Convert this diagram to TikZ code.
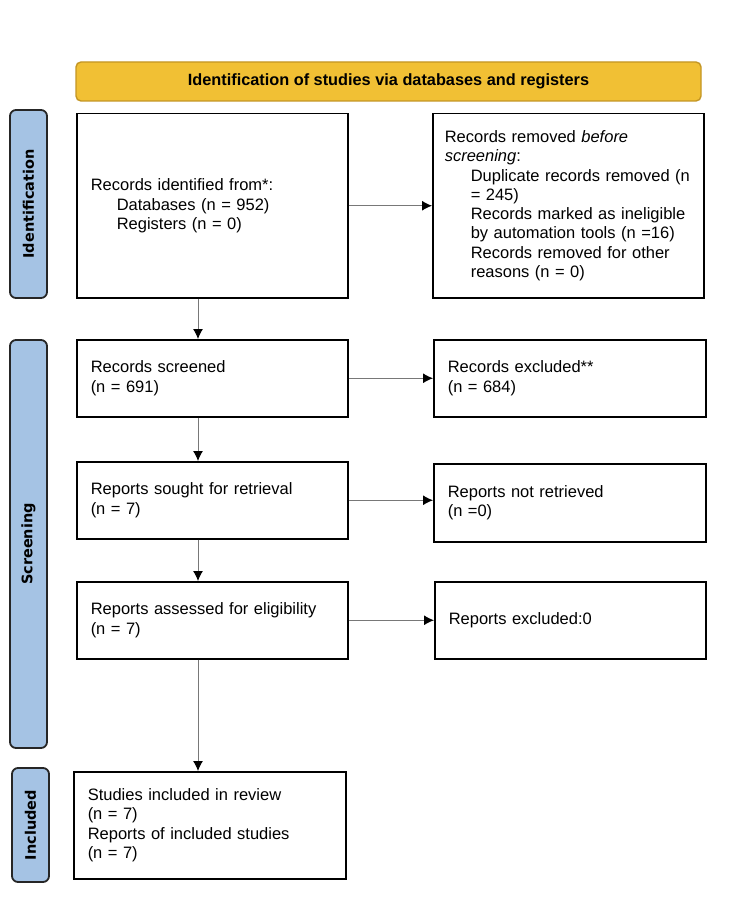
\documentclass[tikz,border=0pt]{standalone}
\usepackage{fontspec}
\setmainfont{Liberation Sans}
\newfontfamily\bandfont{DejaVu Sans}
\usetikzlibrary{arrows.meta}

\definecolor{bandgold}{RGB}{241,192,52}
\definecolor{bandgoldline}{RGB}{196,150,36}
\definecolor{bandblue}{RGB}{165,195,228}
\definecolor{arrowgray}{RGB}{120,120,120}

\tikzset{
  box/.style={draw, line width=1.5pt, inner xsep=14pt, inner ysep=0pt, align=left, anchor=north west, text width=243pt},
  band/.style={draw=black!85, line width=1.8pt, fill=bandblue, rounded corners=6pt, rotate=90, minimum height=37pt, font=\bandfont\bfseries\fontsize{14.5}{17}\selectfont},
  flow/.style={->, >={Latex[length=10pt,width=10pt,color=black]}, draw=arrowgray, line width=1pt},
}
\newcommand{\ind}{\hspace*{26pt}}

\begin{document}
\begin{tikzpicture}[x=1pt, y=-1pt, font=\fontsize{16.5}{19.3}\selectfont]
	\fill[white] (0,0) rectangle (750,920);
	\useasboundingbox (0,0) rectangle (750,920);
	% header and phase bands
	\node[draw=bandgoldline, line width=1.4pt, fill=bandgold, rounded corners=5pt, minimum width=625pt, minimum height=39pt, font=\bfseries\fontsize{16.3}{19}\selectfont] (head) at (388.5,81.5) {Identification of studies via databases and registers};
	\node[band, minimum width=188pt] (bandid) at (28.5,204) {Identification};
	\node[band, minimum width=408pt] (bandscr) at (28.5,544) {Screening};
	\node[band, minimum width=114pt] (bandinc) at (30.5,825) {Included};
	
	% left column
	\node[box, minimum height=184pt] (ident) at (76,113) {Records identified from*:\\ \ind Databases (n = 952)\\ \ind Registers (n = 0)};
	\node[box, minimum height=77pt] (screened) at (76,339) {Records screened\\(n = 691)};
	\node[box, minimum height=77pt] (sought) at (76,461) {Reports sought for retrieval\\(n = 7)};
	\node[box, minimum height=77pt] (assessed) at (76,581) {Reports assessed for eligibility\\(n = 7)};
	\node[box, minimum height=107pt, text width=244pt] (incl) at (73,771) {Studies included in review\\(n = 7)\\Reports of included studies\\(n = 7)};
	
	% right column
	\node[box, minimum height=184pt, inner xsep=12pt, text width=247pt] (removed) at (432,113) {Records removed \textit{before}\\\textit{screening}:\\ \ind Duplicate records removed (n\\ \ind = 245)\\ \ind Records marked as ineligible\\ \ind by automation tools (n =16)\\ \ind Records removed for other\\ \ind reasons (n = 0)};
	\node[box, minimum height=77pt, text width=244pt] (excluded) at (433,339) {Records excluded**\\(n = 684)};
	\node[box, minimum height=78pt, text width=244pt] (notret) at (433,463) {Reports not retrieved\\(n =0)};
	\node[box, minimum height=77pt] (repexcl) at (434,581) {Reports excluded:0};
	
	% arrows
	\coordinate (spine) at (198,0);
	\draw[flow] (ident.south -| spine) -- (screened.north -| spine);
	\draw[flow] (screened.south -| spine) -- (sought.north -| spine);
	\draw[flow] (sought.south -| spine) -- (assessed.north -| spine);
	\draw[flow] (assessed.south -| spine) -- (incl.north -| spine);
	\draw[flow] (ident.east) -- (ident.east -| removed.west);
	\draw[flow] (screened.east) -- (screened.east -| excluded.west);
	\draw[flow] (sought.east) -- (sought.east -| notret.west);
	\draw[flow] (assessed.east) -- (assessed.east -| repexcl.west);
\end{tikzpicture}
\end{document}
